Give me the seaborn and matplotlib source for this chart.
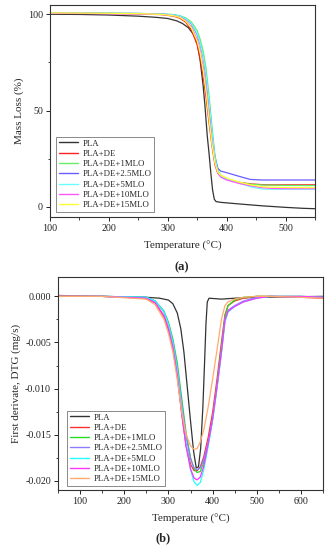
import numpy as np
import pandas as pd
import matplotlib
matplotlib.use("Agg")
import matplotlib.pyplot as plt
from matplotlib.ticker import MultipleLocator
import seaborn as sns

# ---------------- data ----------------
series = ["PLA", "PLA+DE", "PLA+DE+1MLO", "PLA+DE+2.5MLO", "PLA+DE+5MLO", "PLA+DE+10MLO", "PLA+DE+15MLO"]

# TGA (a)
tga_T_pla = [100, 150, 200, 250, 280, 300, 315, 325, 335, 345, 350, 355, 360, 363, 367, 370, 373, 376, 379, 382, 390, 420, 460, 500, 530, 550]
tga_pla = [100.0, 99.9, 99.6, 99.0, 98.4, 97.8, 96.6, 95.2, 93.0, 89.0, 85.0, 76.0, 63.0, 53.0, 37.0, 28.0, 18.0, 9.0, 4.0, 2.8, 2.4, 1.6, 0.6, -0.2, -0.7, -0.9]

tga_T = [100, 200, 250, 290, 310, 320, 330, 340, 350, 355, 360, 365, 370, 375, 380, 385, 390, 400, 420, 440, 460, 480, 500, 550]
tga_de = [100.6, 100.4, 100.2, 99.8, 99.0, 98.0, 96.0, 92.0, 84.0, 77.0, 68.0, 57.0, 44.0, 32.0, 22.0, 17.5, 16.0, 14.5, 12.8, 12.0, 11.6, 11.5, 11.5, 11.5]
tga_1mlo = [100.7, 100.5, 100.4, 100.2, 99.8, 99.3, 98.2, 96.0, 91.5, 87.0, 81.0, 72.0, 58.0, 42.0, 27.0, 19.0, 16.5, 14.5, 12.8, 11.8, 11.4, 11.3, 11.2, 11.1]
tga_25mlo = [100.6, 100.5, 100.4, 100.1, 99.6, 99.0, 97.6, 95.0, 89.5, 84.5, 78.0, 68.0, 54.0, 39.0, 26.0, 20.0, 18.6, 17.8, 16.0, 14.3, 14.0, 14.0, 14.0, 14.0]
tga_5mlo = [100.6, 100.5, 100.4, 100.1, 99.7, 99.1, 97.8, 95.3, 90.0, 85.0, 78.5, 69.0, 55.0, 40.0, 26.0, 18.5, 16.0, 14.5, 12.5, 10.5, 9.3, 9.2, 9.2, 9.2]
tga_10mlo = [100.5, 100.3, 100.2, 99.9, 99.3, 98.5, 96.8, 93.5, 87.0, 81.0, 73.0, 62.0, 48.0, 34.0, 23.0, 17.5, 15.5, 14.0, 12.3, 11.0, 10.0, 9.6, 9.5, 9.5]
tga_15mlo = [100.7, 100.5, 100.3, 99.9, 99.2, 98.4, 96.5, 93.0, 86.0, 80.0, 71.0, 60.0, 46.0, 33.0, 23.0, 18.0, 16.5, 15.0, 13.0, 11.5, 10.5, 10.2, 10.1, 10.0]

# DTG (b)
dtg_T_pla = [50, 150, 250, 280, 300, 310, 320, 328, 335, 342, 350, 357, 363, 368, 373, 378, 382, 385, 388, 392, 420, 450, 500, 650]
dtg_pla = [0.0, 0.0, -0.0001, -0.0002, -0.0004, -0.0008, -0.0018, -0.0035, -0.0060, -0.0095, -0.0135, -0.0168, -0.0186, -0.0185, -0.0165, -0.0120, -0.0070, -0.0030, -0.0006, -0.0002, -0.0003, -0.0002, -0.0001, 0.0]

dtg_T = [50, 150, 250, 270, 290, 300, 310, 320, 330, 340, 350, 358, 365, 372, 380, 390, 400, 410, 420, 428, 435, 450, 470, 500, 530, 600, 650]
dtg_de = [0.0001, 0.0, -0.0002, -0.0007, -0.0022, -0.0036, -0.0056, -0.0086, -0.0127, -0.0162, -0.0182, -0.0189, -0.0189, -0.0185, -0.0174, -0.0153, -0.0126, -0.0090, -0.0050, -0.0020, -0.0010, -0.0005, -0.0002, 0.0, 0.0, -0.0001, -0.0002]
dtg_1mlo = [0.0, 0.0, -0.0001, -0.0005, -0.0016, -0.0028, -0.0046, -0.0072, -0.0110, -0.0148, -0.0175, -0.0187, -0.0191, -0.0190, -0.0180, -0.0160, -0.0132, -0.0095, -0.0055, -0.0022, -0.0010, -0.0004, -0.0001, 0.0, 0.0, 0.0, -0.0001]
dtg_25mlo = [0.0, 0.0, -0.0001, -0.0005, -0.0017, -0.0030, -0.0049, -0.0077, -0.0115, -0.0152, -0.0176, -0.0186, -0.0188, -0.0186, -0.0177, -0.0158, -0.0133, -0.0098, -0.0060, -0.0025, -0.0015, -0.0010, -0.0005, -0.0001, 0.0, -0.0001, -0.0001]
dtg_5mlo = [0.0, 0.0, -0.0001, -0.0005, -0.0017, -0.0030, -0.0050, -0.0079, -0.0120, -0.0160, -0.0188, -0.0201, -0.0205, -0.0202, -0.0188, -0.0163, -0.0135, -0.0100, -0.0062, -0.0028, -0.0017, -0.0011, -0.0006, -0.0002, 0.0, 0.0, -0.0001]
dtg_10mlo = [0.0, 0.0, -0.0002, -0.0007, -0.0021, -0.0035, -0.0055, -0.0085, -0.0126, -0.0163, -0.0187, -0.0197, -0.0199, -0.0196, -0.0184, -0.0160, -0.0133, -0.0098, -0.0060, -0.0026, -0.0016, -0.0011, -0.0006, -0.0002, 0.0, 0.0, -0.0001]
dtg_15mlo = [0.0, 0.0, -0.0003, -0.0009, -0.0025, -0.0040, -0.0060, -0.0090, -0.0125, -0.0150, -0.0162, -0.0166, -0.0165, -0.0158, -0.0145, -0.0120, -0.0090, -0.0058, -0.0025, -0.0010, -0.0006, -0.0003, -0.0001, 0.0, 0.0, -0.0001, -0.0002]

colors_a = ["#333333", "#ff2020", "#66ee66", "#6a5cff", "#66ffff", "#ff55ff", "#ffff33"]
colors_b = ["#333333", "#ff3030", "#22dd22", "#8c7cff", "#22ffff", "#ff33ff", "#ffab70"]

# ---------------- build frames ----------------
def frame(T_pla, y_pla, T, ys):
    rows = []
    for t, v in zip(T_pla, y_pla):
        rows.append((series[0], t, v))
    for name, yy in zip(series[1:], ys):
        for t, v in zip(T, yy):
            rows.append((name, t, v))
    return pd.DataFrame(rows, columns=["series", "T", "val"])

df_a = frame(tga_T_pla, tga_pla, tga_T, [tga_de, tga_1mlo, tga_25mlo, tga_5mlo, tga_10mlo, tga_15mlo])
df_b = frame(dtg_T_pla, dtg_pla, dtg_T, [dtg_de, dtg_1mlo, dtg_25mlo, dtg_5mlo, dtg_10mlo, dtg_15mlo])

# ---------------- style ----------------
sns.set_style("ticks")
plt.rcParams["font.family"] = ["Liberation Serif", "DejaVu Serif"]
plt.rcParams["axes.edgecolor"] = "#333333"
plt.rcParams["axes.linewidth"] = 0.8
plt.rcParams["xtick.direction"] = "out"
plt.rcParams["ytick.direction"] = "out"

fig = plt.figure(figsize=(3.27, 5.5), dpi=100)
ax1 = fig.add_axes([50 / 327, 1 - 217 / 550, 265 / 327, 212 / 550])
ax2 = fig.add_axes([58 / 327, 1 - 490 / 550, 265 / 327, 213 / 550])

sns.lineplot(data=df_a, x="T", y="val", hue="series", hue_order=series, palette=colors_a,
             sort=False, estimator=None, linewidth=0.9, ax=ax1)
sns.lineplot(data=df_b, x="T", y="val", hue="series", hue_order=series, palette=colors_b,
             sort=False, estimator=None, linewidth=0.9, ax=ax2)

# thicker 2.5MLO line in (a)
for ln in ax1.get_lines():
    if ln.get_label() == "PLA+DE+2.5MLO":
        ln.set_linewidth(1.3)

for ax in (ax1, ax2):
    for s in ax.spines.values():
        s.set_visible(True)
        s.set_linewidth(0.8)
    ax.tick_params(axis="both", which="major", labelsize=7.2, length=3, width=0.7, pad=2, colors="#222222")
    ax.tick_params(axis="both", which="minor", length=1.8, width=0.6, colors="#222222")
    ax.set_xlabel("Temperature (°C)", fontsize=8, labelpad=6)

ax1.set_xlim(100, 550)
ax1.set_ylim(-5.2, 104.8)
ax1.xaxis.set_major_locator(MultipleLocator(100))
ax1.xaxis.set_minor_locator(MultipleLocator(50))
ax1.yaxis.set_major_locator(MultipleLocator(50))
ax1.yaxis.set_minor_locator(MultipleLocator(25))
ax1.set_ylabel("Mass Loss (%)", fontsize=8, labelpad=3)

ax2.set_xlim(50, 650)
ax2.set_ylim(-0.0210, 0.0021)
ax2.xaxis.set_major_locator(MultipleLocator(100))
ax2.xaxis.set_minor_locator(MultipleLocator(50))
ax2.yaxis.set_major_locator(MultipleLocator(0.005))
ax2.yaxis.set_minor_locator(MultipleLocator(0.0025))
ax2.yaxis.set_major_formatter(matplotlib.ticker.FormatStrFormatter("%.3f"))
ax2.set_ylabel("First derivate, DTG (mg/s)", fontsize=8, labelpad=3)

for ax, anchor in ((ax1, (6 / 265, 5 / 212)), (ax2, (9 / 265, 4 / 213))):
    leg = ax.legend(loc="lower left", bbox_to_anchor=anchor, fontsize=6.3, frameon=True, fancybox=False,
                    handlelength=2.2, handletextpad=0.5, labelspacing=0.25,
                    borderpad=0.3, borderaxespad=0.0)
    leg.get_frame().set_edgecolor("#555555")
    leg.get_frame().set_linewidth(0.6)
    for h in leg.get_lines():
        h.set_linewidth(1.0)

fig.text(182 / 327, 1 - 267 / 550, "(a)", ha="center", va="center", fontsize=9, fontweight="bold")
fig.text(163 / 327, 1 - 538 / 550, "(b)", ha="center", va="center", fontsize=9, fontweight="bold")

fig.savefig("out.png", dpi=100, facecolor="white")
